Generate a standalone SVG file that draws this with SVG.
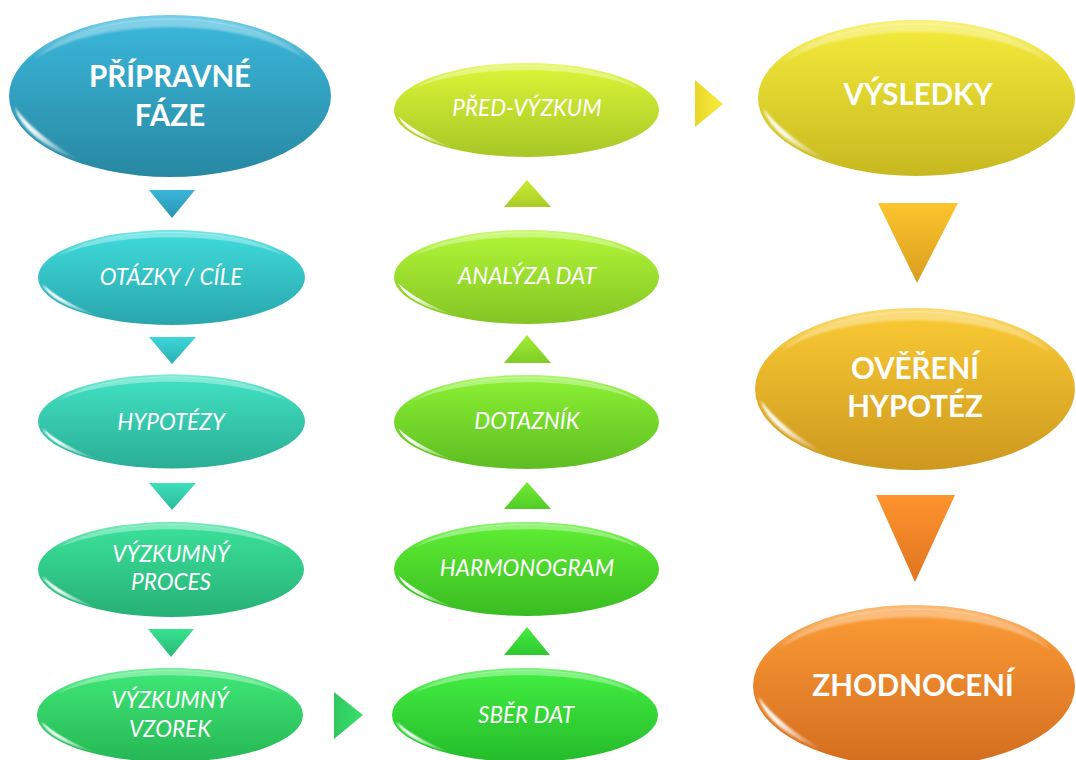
<svg xmlns="http://www.w3.org/2000/svg" xmlns:xlink="http://www.w3.org/1999/xlink" width="1076" height="760" viewBox="0 0 1076 760">
<defs>
<style>
.lbl{font-family:Lato,'Open Sans','Liberation Sans',sans-serif;fill:#ffffff;text-anchor:middle}
.it{font-style:italic;font-size:22.5px}
.bd{font-weight:bold;font-size:29.5px}
.top{fill:url(#gTop)}
.rim{fill:#ffffff;fill-opacity:0.35;filter:url(#soft)}
.low{fill:url(#gLow);filter:url(#soft)}
</style>
<filter id="soft" x="-20%" y="-20%" width="140%" height="140%"><feGaussianBlur stdDeviation="0.006 0.012"/></filter>
<linearGradient id="gTop" x1="0" y1="0" x2="0" y2="1"><stop offset="0" stop-color="#fff" stop-opacity="0.28"/><stop offset="1" stop-color="#fff" stop-opacity="0"/></linearGradient>
<linearGradient id="gLow" x1="0" y1="0" x2="1" y2="1"><stop offset="0" stop-color="#fff" stop-opacity="1"/><stop offset="0.4" stop-color="#fff" stop-opacity="0.9"/><stop offset="1" stop-color="#fff" stop-opacity="0"/></linearGradient>
<path id="hlTop" d="M-0.94,-0.342 A1,1 0 0 1 0.94,-0.342 C0.5,-1.14 -0.5,-1.14 -0.94,-0.342Z"/>
<path id="hlRim" d="M-0.85,-0.45 A0.96,0.96 0 0 1 0.85,-0.45 C0.45,-0.98 -0.45,-0.98 -0.85,-0.45Z"/>
<path id="hlLow" d="M-0.9655,0.1357 A0.975,0.975 0 0 0 -0.5592,0.7987 Q-0.8476,0.4628 -0.9655,0.1357Z"/>
<linearGradient id="c1" x1="0" y1="0" x2="0" y2="1"><stop offset="0" stop-color="#3bb8dc"/><stop offset="1" stop-color="#2888a2"/></linearGradient>
<linearGradient id="c2" x1="0" y1="0" x2="0" y2="1"><stop offset="0" stop-color="#40dcdc"/><stop offset="1" stop-color="#29a6ac"/></linearGradient>
<linearGradient id="c3" x1="0" y1="0" x2="0" y2="1"><stop offset="0" stop-color="#42e2c4"/><stop offset="1" stop-color="#2aae96"/></linearGradient>
<linearGradient id="c4" x1="0" y1="0" x2="0" y2="1"><stop offset="0" stop-color="#3ce29c"/><stop offset="1" stop-color="#27b076"/></linearGradient>
<linearGradient id="c5" x1="0" y1="0" x2="0" y2="1"><stop offset="0" stop-color="#40e878"/><stop offset="1" stop-color="#26b754"/></linearGradient>
<linearGradient id="c6" x1="0" y1="0" x2="0" y2="1"><stop offset="0" stop-color="#44ef42"/><stop offset="1" stop-color="#24bb2a"/></linearGradient>
<linearGradient id="c7" x1="0" y1="0" x2="0" y2="1"><stop offset="0" stop-color="#60ef34"/><stop offset="1" stop-color="#39bc22"/></linearGradient>
<linearGradient id="c8" x1="0" y1="0" x2="0" y2="1"><stop offset="0" stop-color="#8cf234"/><stop offset="1" stop-color="#5dbd22"/></linearGradient>
<linearGradient id="c9" x1="0" y1="0" x2="0" y2="1"><stop offset="0" stop-color="#b2f638"/><stop offset="1" stop-color="#84c524"/></linearGradient>
<linearGradient id="c10" x1="0" y1="0" x2="0" y2="1"><stop offset="0" stop-color="#dbf638"/><stop offset="1" stop-color="#a8c626"/></linearGradient>
<linearGradient id="c11" x1="0" y1="0" x2="0" y2="1"><stop offset="0" stop-color="#f5ec3c"/><stop offset="1" stop-color="#c8b820"/></linearGradient>
<linearGradient id="c12" x1="0" y1="0" x2="0" y2="1"><stop offset="0" stop-color="#fbcb34"/><stop offset="1" stop-color="#cd981f"/></linearGradient>
<linearGradient id="c13" x1="0" y1="0" x2="0" y2="1"><stop offset="0" stop-color="#fc9c36"/><stop offset="1" stop-color="#d36d1f"/></linearGradient>
<linearGradient id="a1" x1="0" y1="0" x2="0" y2="1"><stop offset="0" stop-color="#3ab6da"/><stop offset="1" stop-color="#2a92b0"/></linearGradient>
<linearGradient id="a2" x1="0" y1="0" x2="0" y2="1"><stop offset="0" stop-color="#3dd6d8"/><stop offset="1" stop-color="#2cb0b4"/></linearGradient>
<linearGradient id="a3" x1="0" y1="0" x2="0" y2="1"><stop offset="0" stop-color="#3ee0bc"/><stop offset="1" stop-color="#2cb89a"/></linearGradient>
<linearGradient id="a4" x1="0" y1="0" x2="0" y2="1"><stop offset="0" stop-color="#38e28e"/><stop offset="1" stop-color="#28b878"/></linearGradient>
<linearGradient id="a5" x1="0" y1="0" x2="1" y2="0"><stop offset="0" stop-color="#2fc85e"/><stop offset="1" stop-color="#3ae070"/></linearGradient>
<linearGradient id="a6" x1="0" y1="0" x2="0" y2="1"><stop offset="0" stop-color="#48ec40"/><stop offset="1" stop-color="#2ec830"/></linearGradient>
<linearGradient id="a7" x1="0" y1="0" x2="0" y2="1"><stop offset="0" stop-color="#74ec34"/><stop offset="1" stop-color="#50cc26"/></linearGradient>
<linearGradient id="a8" x1="0" y1="0" x2="0" y2="1"><stop offset="0" stop-color="#a2ee34"/><stop offset="1" stop-color="#7ecc26"/></linearGradient>
<linearGradient id="a9" x1="0" y1="0" x2="0" y2="1"><stop offset="0" stop-color="#ccee34"/><stop offset="1" stop-color="#a8cc26"/></linearGradient>
<linearGradient id="a10" x1="0" y1="0" x2="1" y2="0"><stop offset="0" stop-color="#e8d628"/><stop offset="1" stop-color="#f8ec3c"/></linearGradient>
<linearGradient id="a11" x1="0" y1="0" x2="0" y2="1"><stop offset="0" stop-color="#fcc42c"/><stop offset="1" stop-color="#d89e20"/></linearGradient>
<linearGradient id="a12" x1="0" y1="0" x2="0" y2="1"><stop offset="0" stop-color="#fd942e"/><stop offset="1" stop-color="#e07420"/></linearGradient>
</defs>
<rect width="1076" height="760" fill="#ffffff"/>

<g id="connectors">
<polygon points="149,190 195,190 172,218" fill="url(#a1)"/>
<polygon points="149,337 196,337 172,364" fill="url(#a2)"/>
<polygon points="149,483 196,483 172,510" fill="url(#a3)"/>
<polygon points="148,629 194,629 171,657" fill="url(#a4)"/>
<polygon points="334,692 334,739 363,715" fill="url(#a5)"/>
<polygon points="504,655 550,655 527,627" fill="url(#a6)"/>
<polygon points="504,509 551,509 527,482" fill="url(#a7)"/>
<polygon points="504,363 551,363 527,335" fill="url(#a8)"/>
<polygon points="504,207 551,207 527,180" fill="url(#a9)"/>
<polygon points="695,80 695,127 723,104" fill="url(#a10)"/>
<polygon points="878,203 958,203 917,283" fill="url(#a11)"/>
<polygon points="876,495 955,495 915,582" fill="url(#a12)"/>
</g>

<g id="n1">
<g transform="translate(170,96) scale(161,81)"><ellipse rx="1" ry="1" fill="url(#c1)"/><use xlink:href="#hlTop" class="top"/><use xlink:href="#hlRim" class="rim"/><use xlink:href="#hlLow" class="low"/></g>
<text class="lbl bd" x="170" y="87">PŘÍPRAVNÉ</text><text class="lbl bd" x="170" y="126">FÁZE</text>
</g>
<g id="n2">
<g transform="translate(171.5,277.5) scale(133.5,47.5)"><ellipse rx="1" ry="1" fill="url(#c2)"/><use xlink:href="#hlTop" class="top"/><use xlink:href="#hlRim" class="rim"/><use xlink:href="#hlLow" class="low"/></g>
<text class="lbl it" x="171" y="285">OTÁZKY / CÍLE</text>
</g>
<g id="n3">
<g transform="translate(171.5,421.5) scale(133.5,47)"><ellipse rx="1" ry="1" fill="url(#c3)"/><use xlink:href="#hlTop" class="top"/><use xlink:href="#hlRim" class="rim"/><use xlink:href="#hlLow" class="low"/></g>
<text class="lbl it" x="171" y="430">HYPOTÉZY</text>
</g>
<g id="n4">
<g transform="translate(171,569.5) scale(133,47.5)"><ellipse rx="1" ry="1" fill="url(#c4)"/><use xlink:href="#hlTop" class="top"/><use xlink:href="#hlRim" class="rim"/><use xlink:href="#hlLow" class="low"/></g>
<text class="lbl it" x="171" y="562">VÝZKUMNÝ</text><text class="lbl it" x="171" y="590">PROCES</text>
</g>
<g id="n5">
<g transform="translate(170,715) scale(133,47)"><ellipse rx="1" ry="1" fill="url(#c5)"/><use xlink:href="#hlTop" class="top"/><use xlink:href="#hlRim" class="rim"/><use xlink:href="#hlLow" class="low"/></g>
<text class="lbl it" x="170" y="708">VÝZKUMNÝ</text><text class="lbl it" x="170" y="737">VZOREK</text>
</g>
<g id="n6">
<g transform="translate(525,715) scale(133,47)"><ellipse rx="1" ry="1" fill="url(#c6)"/><use xlink:href="#hlTop" class="top"/><use xlink:href="#hlRim" class="rim"/><use xlink:href="#hlLow" class="low"/></g>
<text class="lbl it" x="526" y="723">SBĚR DAT</text>
</g>
<g id="n7">
<g transform="translate(526.5,569) scale(132.5,47)"><ellipse rx="1" ry="1" fill="url(#c7)"/><use xlink:href="#hlTop" class="top"/><use xlink:href="#hlRim" class="rim"/><use xlink:href="#hlLow" class="low"/></g>
<text class="lbl it" x="527" y="576">HARMONOGRAM</text>
</g>
<g id="n8">
<g transform="translate(526.5,422) scale(132.5,47)"><ellipse rx="1" ry="1" fill="url(#c8)"/><use xlink:href="#hlTop" class="top"/><use xlink:href="#hlRim" class="rim"/><use xlink:href="#hlLow" class="low"/></g>
<text class="lbl it" x="527" y="429">DOTAZNÍK</text>
</g>
<g id="n9">
<g transform="translate(526.5,277) scale(132.5,47)"><ellipse rx="1" ry="1" fill="url(#c9)"/><use xlink:href="#hlTop" class="top"/><use xlink:href="#hlRim" class="rim"/><use xlink:href="#hlLow" class="low"/></g>
<text class="lbl it" x="527" y="284">ANALÝZA DAT</text>
</g>
<g id="n10">
<g transform="translate(526.5,110) scale(132.5,47)"><ellipse rx="1" ry="1" fill="url(#c10)"/><use xlink:href="#hlTop" class="top"/><use xlink:href="#hlRim" class="rim"/><use xlink:href="#hlLow" class="low"/></g>
<text class="lbl it" x="527" y="116">PŘED-VÝZKUM</text>
</g>
<g id="n11">
<g transform="translate(916.5,98) scale(158.5,78)"><ellipse rx="1" ry="1" fill="url(#c11)"/><use xlink:href="#hlTop" class="top"/><use xlink:href="#hlRim" class="rim"/><use xlink:href="#hlLow" class="low"/></g>
<text class="lbl bd" x="918" y="105">VÝSLEDKY</text>
</g>
<g id="n12">
<g transform="translate(915,389) scale(160,81)"><ellipse rx="1" ry="1" fill="url(#c12)"/><use xlink:href="#hlTop" class="top"/><use xlink:href="#hlRim" class="rim"/><use xlink:href="#hlLow" class="low"/></g>
<text class="lbl bd" x="915" y="379">OVĚŘENÍ</text><text class="lbl bd" x="915" y="417">HYPOTÉZ</text>
</g>
<g id="n13">
<g transform="translate(914,686) scale(161,81)"><ellipse rx="1" ry="1" fill="url(#c13)"/><use xlink:href="#hlTop" class="top"/><use xlink:href="#hlRim" class="rim"/><use xlink:href="#hlLow" class="low"/></g>
<text class="lbl bd" x="913" y="696">ZHODNOCENÍ</text>
</g>
</svg>
